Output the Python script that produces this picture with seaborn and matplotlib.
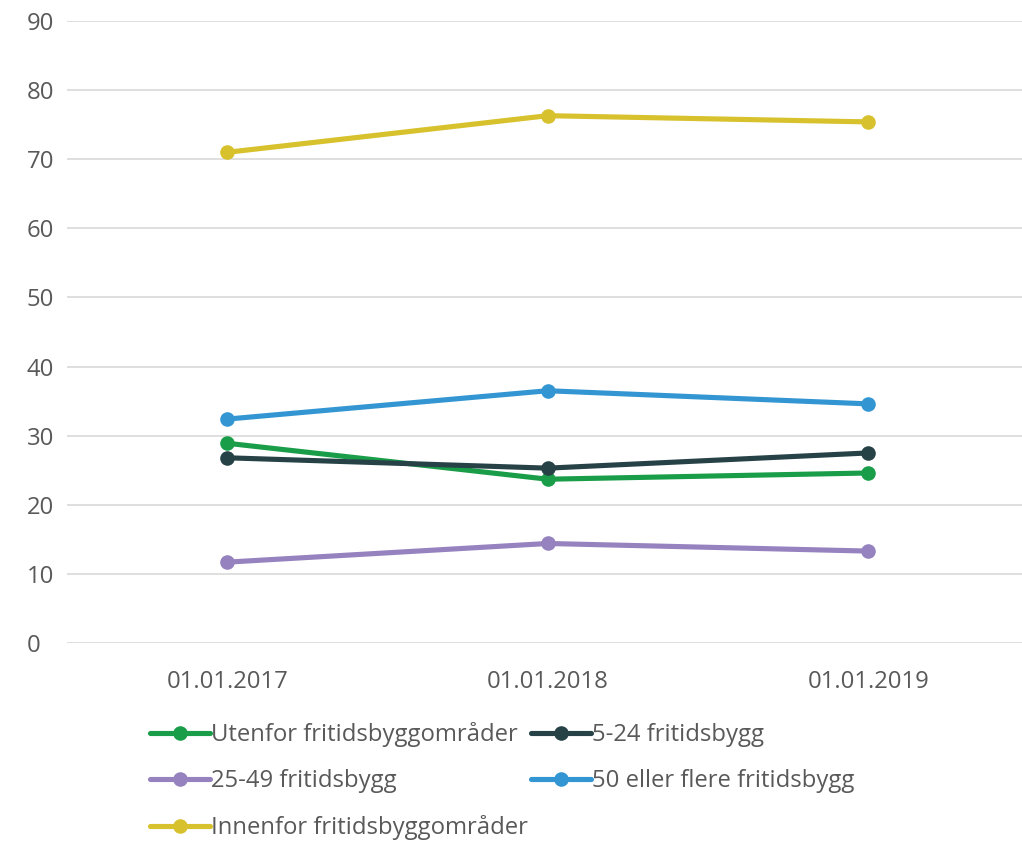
import matplotlib
matplotlib.use("Agg")
import matplotlib.pyplot as plt
import seaborn as sns
import pandas as pd

dates = ["01.01.2017", "01.01.2018", "01.01.2019"]
series_names = ["Utenfor fritidsbyggområder", "5-24 fritidsbygg", "25-49 fritidsbygg",
                "50 eller flere fritidsbygg", "Innenfor fritidsbyggområder"]
utenfor = [28.9, 23.7, 24.6]
fem_24 = [26.8, 25.3, 27.5]
tjuefem_49 = [11.7, 14.4, 13.3]
femti_pluss = [32.4, 36.5, 34.6]
innenfor = [71.0, 76.3, 75.4]
colors = ["#1a9d49", "#274247", "#9582be", "#3396d2", "#d7c12c"]

values = [utenfor, fem_24, tjuefem_49, femti_pluss, innenfor]
rows = []
for name, vals in zip(series_names, values):
    for d, v in zip(dates, vals):
        rows.append({"dato": d, "verdi": v, "serie": name})
df = pd.DataFrame(rows)

sns.set_theme(style="white")
plt.rcParams["font.family"] = ["Open Sans", "DejaVu Sans"]

FS = 17.2
fig = plt.figure(figsize=(10.22, 8.44), dpi=100)
ax = fig.add_axes([67/1022, 201/844, 1 - 67/1022, (643-21)/844])

sns.lineplot(data=df, x="dato", y="verdi", hue="serie", hue_order=series_names,
             palette=colors, marker="o", markersize=10.5, markeredgewidth=0,
             linewidth=3.7, ax=ax, legend=True, sort=False)

ax.set_ylim(0, 90)
ax.set_yticks(range(0, 91, 10))
ax.set_xlim(-0.5, 2.48)
ax.set_xlabel("")
ax.set_ylabel("")
ax.yaxis.grid(True, color="#d9d9d9", linewidth=1.2)
ax.xaxis.grid(False)
ax.set_axisbelow(True)
for s in ax.spines.values():
    s.set_visible(False)
ax.tick_params(axis="both", labelsize=FS, colors="#595959", length=0)
ax.tick_params(axis="x", pad=19.5)
ax.tick_params(axis="y", pad=29)
for lbl in ax.get_yticklabels():
    lbl.set_horizontalalignment("left")

handles, labels = ax.get_legend_handles_labels()
ax.get_legend().remove()
hmap = dict(zip(labels, handles))
order = [series_names[0], series_names[2], series_names[4], series_names[1], series_names[3]]
leg = fig.legend([hmap[o] for o in order], order, ncol=2, loc="upper left",
                 bbox_to_anchor=(150/1022, 1 - 722/844), frameon=False,
                 fontsize=FS, handlelength=2.5, handletextpad=0.05,
                 labelspacing=0.93, columnspacing=0.15, borderpad=0, borderaxespad=0)
for t in leg.get_texts():
    t.set_color("#595959")

fig.savefig("out.png", dpi=100)
